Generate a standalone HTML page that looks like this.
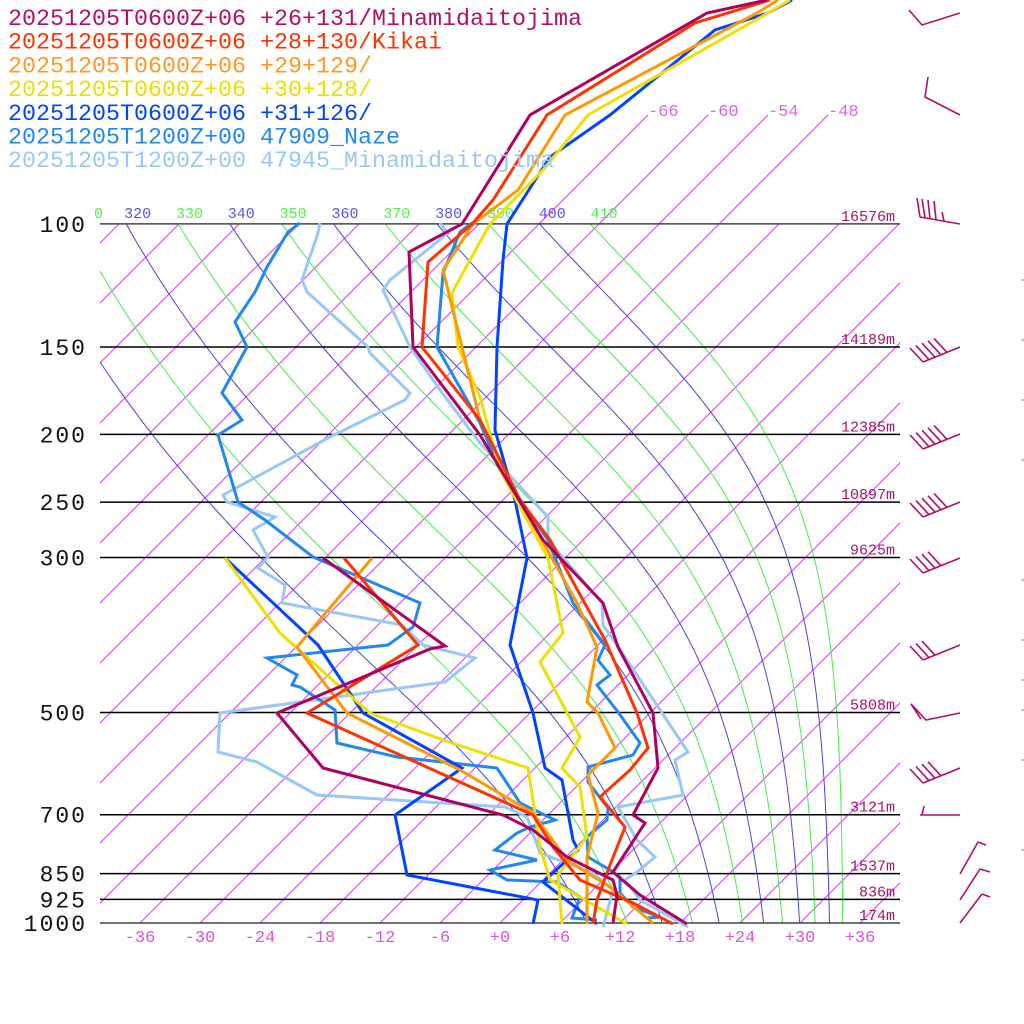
<!DOCTYPE html>
<html><head><meta charset="utf-8"><style>
html,body{margin:0;padding:0;background:#fff;}
svg{display:block;}
</style></head><body>
<svg id="s" width="1024" height="1024" xmlns="http://www.w3.org/2000/svg" font-family="Liberation Mono, monospace"></svg>
<script>
const s=document.getElementById('s');const NS='http://www.w3.org/2000/svg';
function el(t,a,txt){const e=document.createElementNS(NS,t);for(const k in a)e.setAttribute(k,a[k]);if(txt!==undefined)e.textContent=txt;s.appendChild(e);return e;}
const Y=p=>923-303.6*Math.log(1000/p);
const X=(T,y)=>500+10*T+(923-y);
const defs=el('defs',{});const cp=document.createElementNS(NS,'clipPath');cp.setAttribute('id','c');
const r=document.createElementNS(NS,'rect');r.setAttribute('x',100);r.setAttribute('y',224);r.setAttribute('width',800);r.setAttribute('height',699);cp.appendChild(r);defs.appendChild(cp);
const cp2=document.createElementNS(NS,'clipPath');cp2.setAttribute('id','c2');
const r2=document.createElementNS(NS,'rect');r2.setAttribute('x',100);r2.setAttribute('y',110);r2.setAttribute('width',800);r2.setAttribute('height',813);cp2.appendChild(r2);defs.appendChild(cp2);
for(let T=-108;T<=36;T+=6){
  const top=(T>=-66&&T<=-48)?115:224;
  el('line',{x1:X(T,923),y1:923,x2:X(T,top),y2:top,stroke:'#cc44ee','stroke-width':1,'clip-path':'url(#c2)'});
}
[-66,-60,-54,-48].forEach(T=>el('text',{x:X(T,115),y:116,fill:'#dd66dd','font-size':17},String(T)));
function es(Tc){return 6.112*Math.exp(17.67*Tc/(Tc+243.5));}
function the(T,p){const e=es(T-273.15);const rr=0.622*e/Math.max(p-e,1);return T*Math.pow(1000/p,0.2854)*Math.exp(2.5e6*rr/(1004*T));}
for(let th=300;th<=410;th+=10){
  let pts=[];
  for(let p=100;p<=1000;p+=5){
    let lo=150,hi=330;
    for(let i=0;i<40;i++){const m=(lo+hi)/2;if(the(m,p)<th)lo=m;else hi=m;}
    const y=Y(p);pts.push(X(lo-273.15,y).toFixed(1)+','+y.toFixed(1));
  }
  const col=((th/10)%2==0)?'#4444ee':'#44ee44';
  el('polyline',{points:pts.join(' '),fill:'none',stroke:col,'stroke-width':1,'clip-path':'url(#c)'});
  if(th>=310&&th<=410){
    const T100=th*Math.pow(0.1,0.2854)-273.15;const x=X(T100,224);
    el('text',{x:x-2,y:218,fill:col=='#4444ee'?'#5555ee':'#55ee55','font-size':15},String(th));
  }
}
el('rect',{x:0,y:200,width:100,height:22,fill:'#fff'});
el('text',{x:94,y:218,fill:'#55ee55','font-size':15},'0');
[[100,'16576m'],[150,'14189m'],[200,'12385m'],[250,'10897m'],[300,'9625m'],[500,'5808m'],[700,'3121m'],[850,'1537m'],[925,'836m'],[1000,'174m']].forEach(([p,h])=>{
  const y=Y(p);
  el('line',{x1:100,y1:y,x2:900,y2:y,stroke:p==1000||p==100?'#444':'#000','stroke-width':1.5});
  el('text',{x:87,y:y+8,'text-anchor':'end',fill:'#111','font-size':23,'letter-spacing':2},String(p));
  el('text',{x:895,y:y-3,'text-anchor':'end',fill:'#b0106a','font-size':15},h);
});
for(let T=-36;T<=36;T+=6){el('text',{x:500+10*T,y:942,'text-anchor':'middle',fill:'#dd55dd','font-size':17},(T<0?'':'+')+T);}
const S=[
['#99c8f8',[[440,223],[448,233],[390,280],[383,290],[410,347],[440,390],[480,443],[548,517],[548,540],[602,603],[603,625],[617,645],[688,752],[675,760],[683,795],[618,807],[637,840],[655,857],[637,872],[625,880],[640,900],[688,927]]],
['#99c8f8',[[320,223],[318,233],[302,280],[307,292],[368,347],[370,353],[410,393],[405,400],[330,437],[223,495],[227,502],[275,517],[253,530],[268,557],[258,568],[285,585],[282,603],[402,625],[423,645],[475,658],[445,682],[220,713],[218,752],[257,762],[317,795],[505,807],[527,817],[540,853],[593,873],[613,890],[603,927]]],
['#2288ee',[[472,223],[460,232],[443,273],[437,347],[480,423],[500,470],[548,540],[573,603],[605,645],[598,660],[610,675],[597,685],[618,712],[640,743],[633,755],[588,767],[588,782],[608,808],[607,820],[587,837],[588,857],[610,870],[620,877],[620,893],[633,907],[660,917],[647,918]]],
['#2288ee',[[300,223],[288,232],[267,267],[255,292],[235,322],[247,347],[222,393],[242,420],[218,435],[238,502],[265,520],[313,557],[420,603],[413,627],[388,645],[267,658],[297,675],[292,685],[300,687],[335,710],[337,743],[397,757],[497,768],[520,803],[555,820],[530,827],[517,833],[495,850],[537,860],[490,870],[507,880],[557,882],[580,897],[572,918],[597,920]]],
['#0044ff',[[792,0],[768,13],[715,30],[610,115],[550,157],[507,224],[503,260],[497,347],[495,430],[515,500],[527,558],[510,645],[533,713],[545,768],[562,780],[573,840],[578,850],[543,882],[597,924]]],
['#0044ff',[[533,924],[538,900],[407,875],[395,815],[462,768],[363,713],[318,645],[225,558]]],
['#f0e000',[[790,0],[768,13],[588,115],[543,170],[490,224],[470,260],[452,293],[458,347],[480,397],[500,470],[548,558],[563,633],[540,662],[580,737],[562,768],[580,787],[587,837],[558,875],[562,924]]],
['#f0e000',[[225,558],[280,633],[347,693],[370,713],[443,740],[528,768],[540,847],[550,880],[580,897],[627,924]]],
['#ff9900',[[778,0],[757,13],[565,115],[518,190],[473,224],[443,270],[480,420],[525,510],[577,603],[597,647],[587,702],[598,713],[615,748],[588,775],[598,813],[587,857],[587,924]]],
['#ff9900',[[372,558],[297,647],[347,713],[460,770],[533,813],[540,823],[567,860],[610,887],[653,923]]],
['#ff3300',[[770,0],[695,23],[547,115],[493,200],[472,224],[428,262],[422,347],[480,420],[520,500],[550,540],[605,640],[637,713],[648,748],[630,770],[600,797],[625,827],[610,865],[597,900],[593,924]]],
['#ff3300',[[344,558],[418,645],[307,713],[533,815],[553,847],[580,880],[633,903],[673,924]]],
['#b0005f',[[767,0],[707,13],[530,115],[462,224],[409,252],[413,347],[480,435],[543,540],[603,603],[618,647],[653,713],[658,768],[633,815],[645,823],[613,872],[640,895],[687,924]]],
['#b0005f',[[323,558],[445,646],[430,649],[277,713],[323,768],[503,815],[533,830],[567,857],[613,880],[617,895],[613,923]]]
];
S.forEach(([c,pts])=>{el('polyline',{points:pts.map(p=>p.join(',')).join(' '),fill:'none',stroke:c,'stroke-width':3});});
const L=[['#b0106a','20251205T0600Z+06 +26+131/Minamidaitojima'],['#ff3300','20251205T0600Z+06 +28+130/Kikai'],['#ff9922','20251205T0600Z+06 +29+129/'],['#eedd00','20251205T0600Z+06 +30+128/'],['#0044ff','20251205T0600Z+06 +31+126/'],['#2288ee','20251205T1200Z+00 47909_Naze'],['#99c8f8','20251205T1200Z+00 47945_Minamidaitojima']];
L.forEach(([c,t],i)=>el('text',{x:8,y:25+23.7*i,fill:c,'font-size':23.3,textLength:t.length*14,lengthAdjust:'spacingAndGlyphs'},t));
const B='#b0106a';
function pl(pts){el('polyline',{points:pts.map(p=>p.join(',')).join(' '),fill:'none',stroke:B,'stroke-width':1.6});}
pl([[909,10],[922,25],[960,13]]);
pl([[928,77],[925,97],[960,115]]);
pl([[920,217],[960,224]]);[[917,198,920,217],[922,199,925,218],[928,200,930,219],[934,201,936,220],[942,212,944,221]].forEach(a=>pl([[a[0],a[1]],[a[2],a[3]]]));
function barb(y,n){const bx=923,by=y+15;pl([[960,y],[bx,by]]);
 for(let i=0;i<n;i++){const x=910+i*6;const yy=by-(i*6)*0.4;pl([[x+13,yy],[x,yy-14]]);}}
barb(347,5);barb(434,5);barb(502,5);barb(558,4);barb(645,3);
pl([[960,713],[926,720],[911,704],[921,719]]);
barb(768,4);
pl([[920,815],[960,815]]);pl([[922,815],[924,806]]);
pl([[960,874],[978,842]]);pl([[978,842],[986,845]]);
pl([[960,900],[980,869]]);pl([[980,869],[990,872]]);
pl([[960,923],[982,894]]);pl([[982,894],[990,897]]);
[280,340,400,460,580,640,680,710,760,850].forEach(y=>el('line',{x1:1021,y1:y,x2:1024,y2:y,stroke:'#aa66cc','stroke-width':1}));
</script>
</body></html>
